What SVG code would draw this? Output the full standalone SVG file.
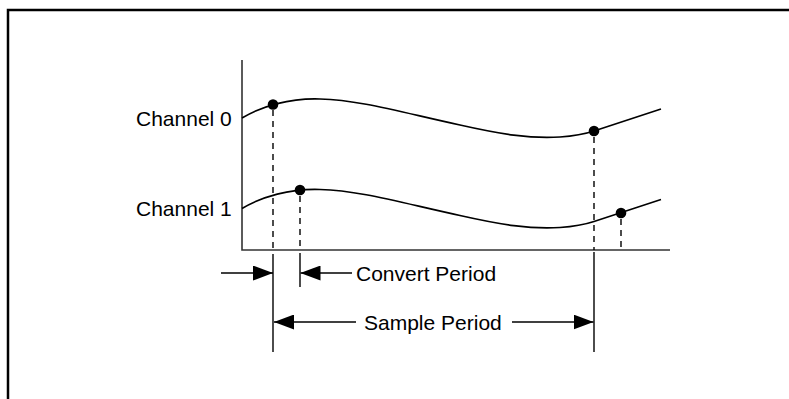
<svg xmlns="http://www.w3.org/2000/svg" width="789" height="399" viewBox="0 0 789 399">
<style>
.frame{fill:none;stroke:#000;stroke-width:2.5}
.axis{fill:none;stroke:#333;stroke-width:1.6}
.wave{fill:none;stroke:#000;stroke-width:1.6}
.dash{fill:none;stroke:#000;stroke-width:1.4;stroke-dasharray:6 5}
.solid{fill:none;stroke:#000;stroke-width:1.4}
.dot{fill:#000}
.lbl{font-family:"Liberation Sans",Arial,sans-serif;font-size:21px;fill:#000}
</style>
<defs>
<marker id="ah" viewBox="0 0 20 15" refX="20" refY="7.5" markerWidth="20" markerHeight="15" markerUnits="userSpaceOnUse" orient="auto">
<path d="M0,0 L20,7.5 L0,15 z" fill="#000"/>
</marker>
<path id="wavePath" d="M242,118 C262,106 290,98 320,99 C360,100 400,112 460,125 C500,134 530,139 560,137 C575,136 585,134 594,131 L661,109"/>
</defs>
<rect width="789" height="399" fill="#fff"/>
<g id="frame">
<path class="frame" d="M8,399 L8,10 L789,10"/>
</g>
<g id="axes">
<path class="axis" d="M242,60 L242,250 L670,250"/>
</g>
<g id="channel0">
<use href="#wavePath" class="wave"/>
<circle class="dot" cx="273" cy="104.5" r="5.3"/>
<circle class="dot" cx="594" cy="131" r="5.3"/>
<text class="lbl" x="136" y="126">Channel 0</text>
</g>
<g id="channel1">
<use href="#wavePath" class="wave" transform="translate(0,90.5)"/>
<circle class="dot" cx="300" cy="190" r="5.3"/>
<circle class="dot" cx="621" cy="213" r="5.3"/>
<text class="lbl" x="136" y="216">Channel 1</text>
</g>
<g id="connectors">
<line class="dash" x1="273" y1="110" x2="273" y2="250"/>
<line class="dash" x1="300" y1="196" x2="300" y2="250"/>
<line class="dash" x1="594" y1="137" x2="594" y2="250"/>
<line class="dash" x1="621" y1="219" x2="621" y2="250"/>
<line class="solid" x1="273" y1="254" x2="273" y2="352"/>
<line class="solid" x1="594" y1="252" x2="594" y2="352"/>
<line class="solid" x1="300" y1="253" x2="300" y2="287"/>
<line class="solid" x1="221" y1="273" x2="273" y2="273" marker-end="url(#ah)"/>
<line class="solid" x1="352" y1="273" x2="300.5" y2="273" marker-end="url(#ah)"/>
<line class="solid" x1="356" y1="322" x2="274" y2="322" marker-end="url(#ah)"/>
<line class="solid" x1="512" y1="322" x2="593.5" y2="322" marker-end="url(#ah)"/>
</g>
<g id="convert-period">
<text class="lbl" x="356" y="281">Convert Period</text>
</g>
<g id="sample-period">
<text class="lbl" x="364" y="330">Sample Period</text>
</g>
</svg>
